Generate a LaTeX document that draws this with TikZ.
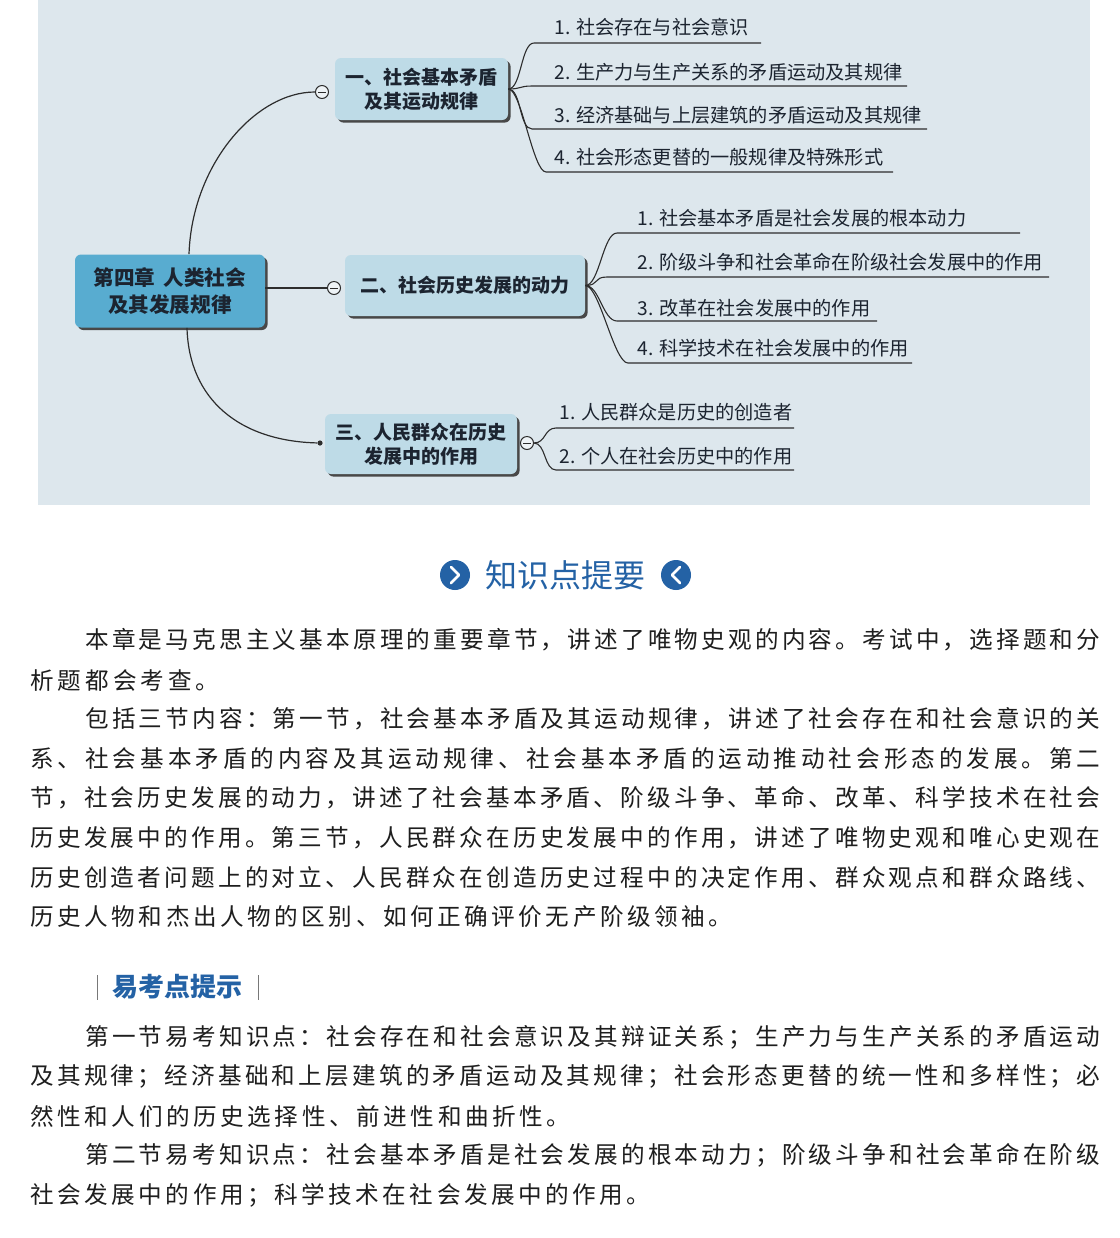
\documentclass[tikz,border=0pt]{standalone}
\usepackage{fontspec}
\setmainfont{Noto Sans CJK SC}
\usetikzlibrary{shadows}

\definecolor{panelbg}{RGB}{221,231,237}
\definecolor{rootfill}{RGB}{88,172,208}
\definecolor{topicfill}{RGB}{190,219,231}
\definecolor{inkdark}{RGB}{28,36,48}
\definecolor{linedark}{RGB}{45,45,45}
\definecolor{titleblue}{RGB}{36,98,165}
\definecolor{bodyink}{RGB}{30,30,30}
\definecolor{bargray}{RGB}{120,120,120}

% spread the characters of a line evenly over a given width
\makeatletter
\newcommand\spreadbox[2]{\makebox[#1][s]{\spread@first#2\relax}}
\def\spread@first#1{#1\spread@rest}
\def\spread@rest#1{\ifx\relax#1\else\hskip 0pt plus 1fil\relax#1\expandafter\spread@rest\fi}
\makeatother
\newcommand\fullline[1]{\spreadbox{535pt}{#1}}
\newcommand\indentline[1]{\spreadbox{507.5pt}{#1}}

\begin{document}
\begin{tikzpicture}[x=0.5pt,y=-0.5pt,
  boxshadow/.style={drop shadow={shadow xshift=1.3pt,shadow yshift=-1.3pt,fill=black!75,opacity=0.95}},
  rootbox/.style={rounded corners=3pt,fill=rootfill,boxshadow,align=center,inner sep=0pt,
    text=inkdark,font=\bfseries\fontsize{10.3}{13.5}\selectfont},
  topicbox/.style={rounded corners=3pt,fill=topicfill,boxshadow,align=center,inner sep=0pt,
    text=inkdark,font=\bfseries\fontsize{9.5}{12}\selectfont},
  leaf/.style={anchor=west,inner sep=0pt,text=inkdark,font=\fontsize{9.6}{11}\selectfont},
  conn/.style={draw=linedark,line width=0.6pt},
  branch/.style={draw=linedark,line width=0.55pt},
  marker/.style={circle,draw=linedark,fill=panelbg!50!white,minimum size=6.5pt,inner sep=0pt,line width=0.5pt,
    path picture={\draw[linedark,line width=0.5pt]
      ([xshift=-1.8pt]path picture bounding box.center) -- ([xshift=1.8pt]path picture bounding box.center);}},
  enddot/.style={circle,fill=linedark,minimum size=2.6pt,inner sep=0pt},
  icon/.style={circle,fill=titleblue,minimum size=15pt,inner sep=0pt},
  chevron/.style={white,line width=1.4pt,line cap=round,line join=round},
  bodyline/.style={anchor=west,inner sep=0pt,text=bodyink,font=\fontsize{11.8}{13}\selectfont}]

\useasboundingbox (0,0) rectangle (1120,1238);
\fill[white] (0,0) rectangle (1120,1238);
\fill[panelbg] (38,0) rectangle (1090,505);

% ---------------- mind map ----------------
\node[rootbox,minimum width=95pt,minimum height=36.5pt] (root) at (170,291) {第四章\hspace{0.4em}人类社会\\及其发展规律};

\node[topicbox,minimum width=86.5pt,minimum height=31pt] (t1) at (421.5,89) {一、社会基本矛盾\\及其运动规律};
\node[topicbox,minimum width=120pt,minimum height=30.5pt] (t2) at (465,285.5) {二、社会历史发展的动力};
\node[topicbox,minimum width=96pt,minimum height=30pt] (t3) at (421,444) {三、人民群众在历史\\发展中的作用};

\node[marker] (m1) at (322,92) {};
\node[marker] (m2) at (334,288) {};
\node[marker] (m3) at (527,443) {};
\node[enddot] (d3) at (320,443) {};

\draw[conn] ([xshift=9.5pt]root.north) .. controls (192,165) and (255,92) .. (m1.west);
\draw[conn] (root.east |- m2) -- (m2.west);
\draw[conn] ([xshift=8.5pt]root.south) .. controls (189,400) and (240,441) .. (d3);

% first topic
\node[leaf] (a1) at (554,27)  {1. 社会存在与社会意识};
\node[leaf] (a2) at (554,72)  {2. 生产力与生产关系的矛盾运动及其规律};
\node[leaf] (a3) at (554,115) {3. 经济基础与上层建筑的矛盾运动及其规律};
\node[leaf] (a4) at (554,157) {4. 社会形态更替的一般规律及特殊形式};
\coordinate (a1s) at (534,43);  \coordinate (a1e) at (761,43);
\coordinate (a2s) at (532,86);  \coordinate (a2e) at (907,86);
\coordinate (a3s) at (532,129); \coordinate (a3e) at (927,129);
\coordinate (a4s) at (546,172); \coordinate (a4e) at (893,172);
\foreach \k in {1,...,4}
  \draw[branch] (t1.east) .. controls +(13,0) and +(-13,0) .. (a\k s) -- (a\k e);

% second topic
\node[leaf] (b1) at (637,218) {1. 社会基本矛盾是社会发展的根本动力};
\node[leaf] (b2) at (637,262) {2. 阶级斗争和社会革命在阶级社会发展中的作用};
\node[leaf] (b3) at (637,308) {3. 改革在社会发展中的作用};
\node[leaf] (b4) at (637,348) {4. 科学技术在社会发展中的作用};
\coordinate (b1s) at (617,233); \coordinate (b1e) at (1020,233);
\coordinate (b2s) at (607,277); \coordinate (b2e) at (1049,277);
\coordinate (b3s) at (617,321); \coordinate (b3e) at (877,321);
\coordinate (b4s) at (628,363); \coordinate (b4e) at (912,363);
\foreach \k in {1,...,4}
  \draw[branch] (t2.east) .. controls +(14,0) and +(-14,0) .. (b\k s) -- (b\k e);

% third topic
\node[leaf] (c1) at (559,412) {1. 人民群众是历史的创造者};
\node[leaf] (c2) at (559,456) {2. 个人在社会历史中的作用};
\coordinate (c1s) at (556,428); \coordinate (c1e) at (794,428);
\coordinate (c2s) at (556,470); \coordinate (c2e) at (794,470);
\foreach \k in {1,2}
  \draw[branch] (m3.east) .. controls +(12,0) and +(-12,0) .. (c\k s) -- (c\k e);

% ---------------- heading ----------------
\node[icon] (iconL) at (455,575) {};
\draw[chevron] ([shift={(-4,-8)}]iconL.center) -- ([shift={(4,0)}]iconL.center) -- ([shift={(-4,8)}]iconL.center);
\node[icon] (iconR) at (676,575) {};
\draw[chevron] ([shift={(4,-8)}]iconR.center) -- ([shift={(-4,0)}]iconR.center) -- ([shift={(4,8)}]iconR.center);
\node[inner sep=0pt,text=titleblue,font=\fontsize{16}{18}\selectfont] (title) at (565.5,575) {知识点提要};

% ---------------- body text ----------------
\node[bodyline] (p1a) at (85,640)   {\indentline{本章是马克思主义基本原理的重要章节，讲述了唯物史观的内容。考试中，选择题和分}};
\node[bodyline] (p1b) at (30,681)   {\spreadbox{94.5pt}{析题都会考查。}};

\node[bodyline] (p2a) at (85,719)   {\indentline{包括三节内容：第一节，社会基本矛盾及其运动规律，讲述了社会存在和社会意识的关}};
\node[bodyline] (p2b) at (30,758.5) {\fullline{系、社会基本矛盾的内容及其运动规律、社会基本矛盾的运动推动社会形态的发展。第二}};
\node[bodyline] (p2c) at (30,798)   {\fullline{节，社会历史发展的动力，讲述了社会基本矛盾、阶级斗争、革命、改革、科学技术在社会}};
\node[bodyline] (p2d) at (30,837.5) {\fullline{历史发展中的作用。第三节，人民群众在历史发展中的作用，讲述了唯物史观和唯心史观在}};
\node[bodyline] (p2e) at (30,877)   {\fullline{历史创造者问题上的对立、人民群众在创造历史过程中的决定作用、群众观点和群众路线、}};
\node[bodyline] (p2f) at (30,916.5) {\spreadbox{351pt}{历史人物和杰出人物的区别、如何正确评价无产阶级领袖。}};

\node[inner sep=0pt,text=titleblue,font=\bfseries\fontsize{13}{15}\selectfont] (hint) at (177.5,987) {易考点提示};
\draw[bargray,line width=0.5pt] (97,975) -- (97,1000);
\draw[bargray,line width=0.5pt] (258,975) -- (258,1000);

\node[bodyline] (p3a) at (85,1037)   {\indentline{第一节易考知识点：社会存在和社会意识及其辩证关系；生产力与生产关系的矛盾运动}};
\node[bodyline] (p3b) at (30,1076.5) {\fullline{及其规律；经济基础和上层建筑的矛盾运动及其规律；社会形态更替的统一性和多样性；必}};
\node[bodyline] (p3c) at (30,1116)   {\spreadbox{270pt}{然性和人们的历史选择性、前进性和曲折性。}};

\node[bodyline] (p4a) at (85,1155.5) {\indentline{第二节易考知识点：社会基本矛盾是社会发展的根本动力；阶级斗争和社会革命在阶级}};
\node[bodyline] (p4b) at (30,1195)   {\spreadbox{310pt}{社会发展中的作用；科学技术在社会发展中的作用。}};

\end{tikzpicture}
\end{document}
